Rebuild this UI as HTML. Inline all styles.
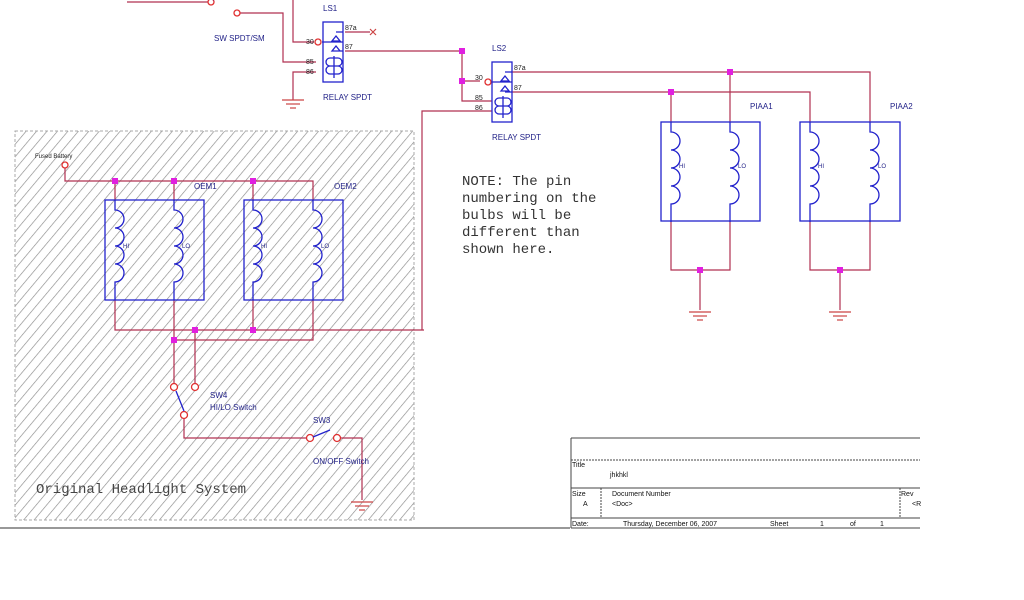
<!DOCTYPE html>
<html><head><meta charset="utf-8"><style>
html,body{margin:0;padding:0;background:#fff;width:1024px;height:600px;overflow:hidden}
svg{display:block}
text{font-family:"Liberation Sans",sans-serif}
.m text, text.m{font-family:"Liberation Mono",monospace}
</style></head><body>
<svg width="1024" height="600" viewBox="0 0 1024 600" xmlns="http://www.w3.org/2000/svg">
<defs>
<pattern id="h" patternUnits="userSpaceOnUse" width="8" height="8" patternTransform="rotate(40)">
<line x1="0" y1="0" x2="0" y2="8" stroke="#8a8a8a" stroke-width="1.3"/>
</pattern>
<symbol id="coil" overflow="visible">
<path d="M0,0 V10 a9 9 0 0 1 0 18 a9 9 0 0 1 0 18 a9 9 0 0 1 0 18 a9 9 0 0 1 0 18 V100" fill="none" stroke="#2222cc" stroke-width="1.3"/>
</symbol>
<symbol id="gnd" overflow="visible">
<line x1="-11" y1="0" x2="11" y2="0" stroke="#c44" stroke-width="1.2"/>
<line x1="-7" y1="4" x2="7" y2="4" stroke="#c44" stroke-width="1.2"/>
<line x1="-3" y1="8" x2="3" y2="8" stroke="#c44" stroke-width="1.2"/>
</symbol>
</defs>

<rect x="15" y="131" width="399" height="389" fill="url(#h)" stroke="#aaa" stroke-dasharray="3,2"/>
<line x1="0" y1="528" x2="570" y2="528" stroke="#777" stroke-width="1.5"/>

<g fill="none" stroke="#b03050" stroke-width="1.2">
<path d="M127,2 H208"/>
<path d="M240,13 H283 V62 H316"/>
<path d="M293,0 V42 H314"/>
<path d="M316,72 H293 V100"/>
<path d="M345,32 H370"/>
<path d="M345,51 H462 V101 H492"/>
<path d="M462,81 H480"/>
<path d="M422,330 V111 H492"/>
<path d="M512,72 H870 V122"/>
<path d="M512,92 H810 V122"/>
<path d="M730,72 V122"/>
<path d="M671,92 V122"/>
<path d="M671,221 V270 H730 V221"/>
<path d="M810,221 V270 H870 V221"/>
<path d="M700,270 V310"/>
<path d="M840,270 V310"/>
<path d="M65,168 V181 H313 V200"/>
<path d="M115,181 V200 M174,181 V200 M253,181 V200"/>
<path d="M115,300 V330 H424 M253,300 V330 M313,300 V340 H174 M174,300 V340"/>
<path d="M174,340 V384 M195,330 V384"/>
<path d="M184,418 V438 H306"/>
<path d="M341,438 H362 V500"/>
</g>
<use href="#gnd" x="293" y="100"/>
<use href="#gnd" x="700" y="312"/>
<use href="#gnd" x="840" y="312"/>
<use href="#gnd" x="362" y="502"/>
<path d="M370,29 l6,6 M376,29 l-6,6" stroke="#c44" stroke-width="1.2"/>

<g fill="#fff" stroke="#e03030" stroke-width="1.3">
<circle cx="211" cy="2" r="3"/><circle cx="237" cy="13" r="3"/>
<circle cx="318" cy="42" r="3"/><circle cx="488" cy="82" r="3"/>
<circle cx="65" cy="165" r="3"/>
<circle cx="174" cy="387" r="3.5"/><circle cx="195" cy="387" r="3.5"/>
<circle cx="184" cy="415" r="3.5"/>
<circle cx="310" cy="438" r="3.5"/><circle cx="337" cy="438" r="3.5"/>
</g>
<line x1="176" y1="391" x2="184" y2="411" stroke="#2222cc" stroke-width="1.3"/>
<line x1="313" y1="437" x2="330" y2="430" stroke="#2222cc" stroke-width="1.3"/>
<line x1="213" y1="0" x2="218" y2="-3" stroke="#2222cc" stroke-width="1.3"/>

<g fill="none" stroke="#2222cc" stroke-width="1.3">
<rect x="323" y="22" width="20" height="60"/>
<path d="M322,42 H343 M336,36 l-4,5 h8 z M336,46 l-4,5 h8 z M336,32 H343 M336,51 H343"/>
<path d="M330,58 h8 a3,3 0 0 1 0,8 h-8 a3,3 0 0 1 0,-8 M330,66 h8 a3,3 0 0 1 0,8 h-8 a3,3 0 0 1 0,-8 M334,56 V78"/>
<rect x="492" y="62" width="20" height="60"/>
<path d="M492,82 H512 M505,76 l-4,5 h8 z M505,86 l-4,5 h8 z M505,72 H512 M505,92 H512"/>
<path d="M499,98 h8 a3,3 0 0 1 0,8 h-8 a3,3 0 0 1 0,-8 M499,106 h8 a3,3 0 0 1 0,8 h-8 a3,3 0 0 1 0,-8 M503,96 V118"/>
<rect x="105" y="200" width="99" height="100"/>
<rect x="244" y="200" width="99" height="100"/>
<rect x="661" y="122" width="99" height="99"/>
<rect x="800" y="122" width="100" height="99"/>
</g>
<use href="#coil" x="115" y="200"/><use href="#coil" x="174" y="200"/>
<use href="#coil" x="253" y="200"/><use href="#coil" x="313" y="200"/>
<use href="#coil" x="671" y="122"/><use href="#coil" x="730" y="122"/>
<use href="#coil" x="810" y="122"/><use href="#coil" x="870" y="122"/>

<g fill="#e020e0">
<rect x="459" y="48" width="6" height="6"/><rect x="459" y="78" width="6" height="6"/>
<rect x="727" y="69" width="6" height="6"/><rect x="668" y="89" width="6" height="6"/>
<rect x="697" y="267" width="6" height="6"/><rect x="837" y="267" width="6" height="6"/>
<rect x="112" y="178" width="6" height="6"/><rect x="171" y="178" width="6" height="6"/><rect x="250" y="178" width="6" height="6"/>
<rect x="192" y="327" width="6" height="6"/><rect x="250" y="327" width="6" height="6"/><rect x="171" y="337" width="6" height="6"/>
</g>

<g font-size="8" fill="#222288">
<text x="323" y="11">LS1</text><text x="492" y="51">LS2</text>
<text x="214" y="41">SW SPDT/SM</text>
<text x="323" y="100">RELAY SPDT</text><text x="492" y="140">RELAY SPDT</text>
<text x="750" y="109">PIAA1</text><text x="890" y="109">PIAA2</text>
<text x="194" y="189">OEM1</text><text x="334" y="189">OEM2</text>
<text x="210" y="398">SW4</text><text x="210" y="410">HI/LO Switch</text>
<text x="313" y="423">SW3</text><text x="313" y="464">ON/OFF Switch</text>
<text x="123" y="248" font-size="6">HI</text><text x="182" y="248" font-size="6">LO</text>
<text x="261" y="248" font-size="6">HI</text><text x="321" y="248" font-size="6">LO</text>
<text x="679" y="168" font-size="6">HI</text><text x="738" y="168" font-size="6">LO</text>
<text x="818" y="168" font-size="6">HI</text><text x="878" y="168" font-size="6">LO</text>
</g>
<g font-size="7" fill="#222">
<text x="306" y="44">30</text><text x="306" y="64">85</text><text x="306" y="74">86</text>
<text x="345" y="30">87a</text><text x="345" y="49">87</text>
<text x="475" y="80">30</text><text x="475" y="100">85</text><text x="475" y="110">86</text>
<text x="514" y="70">87a</text><text x="514" y="90">87</text>
<text x="35" y="158" font-size="6">Fused Battery</text>
</g>
<text class="m" x="36" y="493" font-size="14" fill="#444">Original Headlight System</text>
<g class="m" font-size="14" fill="#333">
<text x="462" y="185">NOTE:  The pin</text>
<text x="462" y="202">numbering on the</text>
<text x="462" y="219">bulbs will be</text>
<text x="462" y="236">different than</text>
<text x="462" y="253">shown here.</text>
</g>

<g fill="none" stroke="#444" stroke-width="1">
<path d="M571,438 H920 M571,438 V528"/>
<path d="M571,460 H920" stroke-dasharray="2,1"/>
<path d="M571,488 H920 M571,518 H920 M571,528 H920"/>
<path d="M601,488 V518 M900,488 V518" stroke-dasharray="2,1"/>
</g>
<g font-size="7" fill="#111">
<text x="572" y="467">Title</text><text x="610" y="477">jhkhkl</text>
<text x="572" y="496">Size</text><text x="583" y="506">A</text>
<text x="612" y="496">Document Number</text><text x="612" y="506">&lt;Doc&gt;</text>
<text x="901" y="496">Rev</text><text x="912" y="506">&lt;R</text>
<text x="572" y="526">Date:</text><text x="623" y="526">Thursday, December 06, 2007</text>
<text x="770" y="526">Sheet</text><text x="820" y="526">1</text><text x="850" y="526">of</text><text x="880" y="526">1</text>
</g>
</svg>
</body></html>
